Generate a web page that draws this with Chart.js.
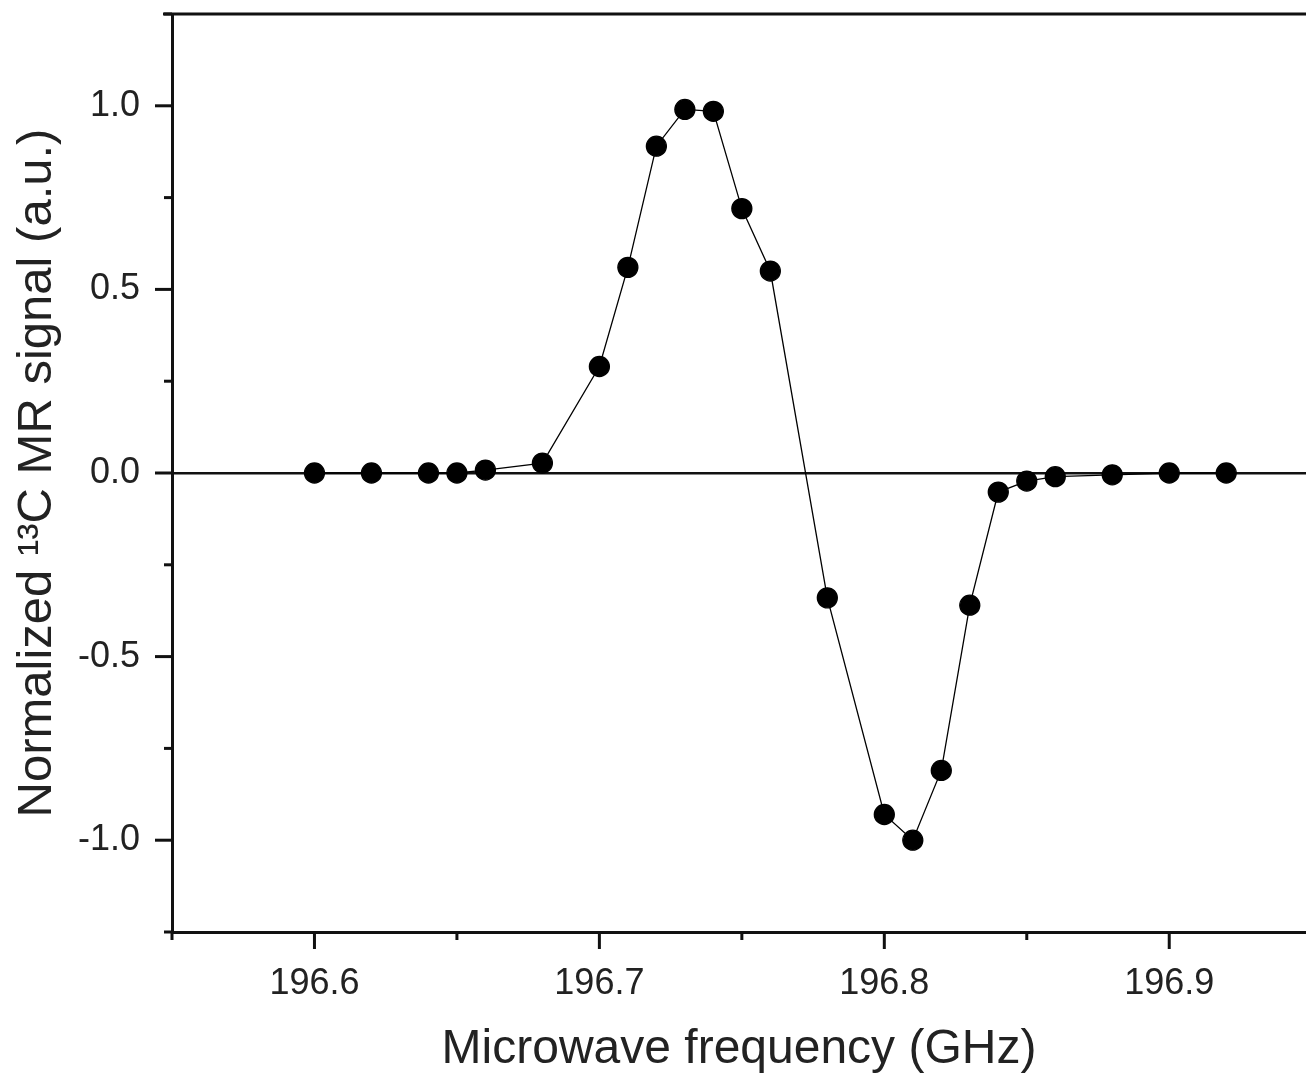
<!DOCTYPE html>
<html>
<head>
<meta charset="utf-8">
<script src="https://cdn.jsdelivr.net/npm/chart.js@4/dist/chart.umd.min.js"></script>
<style>
  html, body { margin: 0; padding: 0; background: #fff; }
  #graf { display: block; }
</style>
</head>
<body>
<canvas id="graf" width="1306" height="1079"></canvas>
<script>
const graph = document.getElementById('graf')

// frequency (GHz) and normalized signal
const freq = [196.60, 196.62, 196.64, 196.65, 196.66, 196.68, 196.70, 196.71, 196.72, 196.73, 196.74, 196.75,
  196.76, 196.78, 196.80, 196.81, 196.82, 196.83, 196.84, 196.85, 196.86, 196.88, 196.90, 196.92]
const signal = [0.00, 0.00, 0.00, 0.00, 0.008, 0.027, 0.29, 0.56, 0.89, 0.99, 0.985, 0.72,
  0.55, -0.34, -0.93, -1.00, -0.81, -0.36, -0.052, -0.022, -0.01, -0.005, 0.00, 0.00]
const xTickLabels = ["196.6", "196.7", "196.8", "196.9"]
const yTickLabels = ["-1.0", "-0.5", "0.0", "0.5", "1.0"]

const points = freq.map((f, i) => ({ x: f, y: signal[i] }))
const fontFam = '"Liberation Sans", Arial, sans-serif'

function isMajor(v, step) {
  let r = v / step
  return Math.abs(r - Math.round(r)) < 1e-6
}

// outward major/minor tick marks + top frame line
const tickMarks = {
  id: 'tickMarks',
  afterDraw(chart) {
    const ctx = chart.ctx
    const area = chart.chartArea
    const xs = chart.scales.x
    const ys = chart.scales.y
    ctx.save()
    ctx.strokeStyle = '#111'
    ctx.lineWidth = 3
    xs.ticks.forEach(t => {
      let px = xs.getPixelForValue(t.value)
      let len = isMajor(t.value, 0.1) ? 17 : 8
      ctx.beginPath()
      ctx.moveTo(px, area.bottom)
      ctx.lineTo(px, area.bottom + len)
      ctx.stroke()
    })
    ys.ticks.forEach(t => {
      let py = ys.getPixelForValue(t.value)
      let len = isMajor(t.value, 0.5) ? 17 : 8
      ctx.beginPath()
      ctx.moveTo(area.left, py)
      ctx.lineTo(area.left - len, py)
      ctx.stroke()
    })
    ctx.beginPath()
    ctx.moveTo(area.left - 9, area.top)
    ctx.lineTo(area.right, area.top)
    ctx.stroke()
    ctx.restore()
  }
}

new Chart(graph, {
  type: 'line',
  data: {
    datasets: [{
      data: points,
      borderColor: '#000',
      borderWidth: 1.3,
      backgroundColor: '#000',
      pointBackgroundColor: '#000',
      pointBorderColor: '#000',
      pointRadius: 10,
      pointHoverRadius: 10,
      tension: 0,
      fill: false
    }]
  },
  plugins: [tickMarks],
  options: {
    responsive: false,
    animation: false,
    layout: { autoPadding: false, padding: { top: 14, right: 0, left: 0, bottom: 0 } },
    plugins: {
      legend: { display: false },
      tooltip: { enabled: false }
    },
    scales: {
      x: {
        type: 'linear',
        min: 196.55,
        max: 196.948,
        afterFit(scale) {
          scale.height = 147
          scale.paddingLeft = 0
          scale.paddingRight = 0
        },
        border: { display: true, color: '#111', width: 3 },
        grid: { display: false, drawTicks: false },
        ticks: {
          stepSize: 0.05,
          includeBounds: false,
          autoSkip: false,
          maxRotation: 0,
          padding: 30,
          color: '#222',
          font: { family: fontFam, size: 36 },
          callback(v) {
            let lab = (Math.round(v * 10) / 10).toFixed(1)
            return isMajor(v, 0.1) && xTickLabels.includes(lab) ? lab : ''
          }
        },
        title: {
          display: true,
          text: 'Microwave frequency (GHz)',
          color: '#222',
          padding: { top: 6, bottom: 0 },
          font: { family: fontFam, size: 48 }
        }
      },
      y: {
        min: -1.25,
        max: 1.25,
        afterFit(scale) {
          scale.width = 172
          scale.paddingTop = 0
          scale.paddingBottom = 0
        },
        border: { display: true, color: '#111', width: 3 },
        grid: {
          drawTicks: false,
          drawOnChartArea: true,
          color: ctx => Math.abs(ctx.tick.value) < 1e-9 ? '#111' : 'rgba(0,0,0,0)',
          lineWidth: ctx => Math.abs(ctx.tick.value) < 1e-9 ? 2.5 : 0
        },
        ticks: {
          stepSize: 0.25,
          autoSkip: false,
          padding: 32,
          color: '#222',
          font: { family: fontFam, size: 36 },
          callback(v) {
            let lab = (Math.abs(v) < 1e-9 ? 0 : v).toFixed(1)
            return isMajor(v, 0.5) && yTickLabels.includes(lab) ? lab : ''
          }
        },
        title: {
          display: true,
          text: 'Normalized \u00b9\u00b3C MR signal (a.u.)',
          color: '#222',
          padding: { top: 8, bottom: 0 },
          font: { family: fontFam, size: 49 }
        }
      }
    }
  }
})
</script>
</body>
</html>
